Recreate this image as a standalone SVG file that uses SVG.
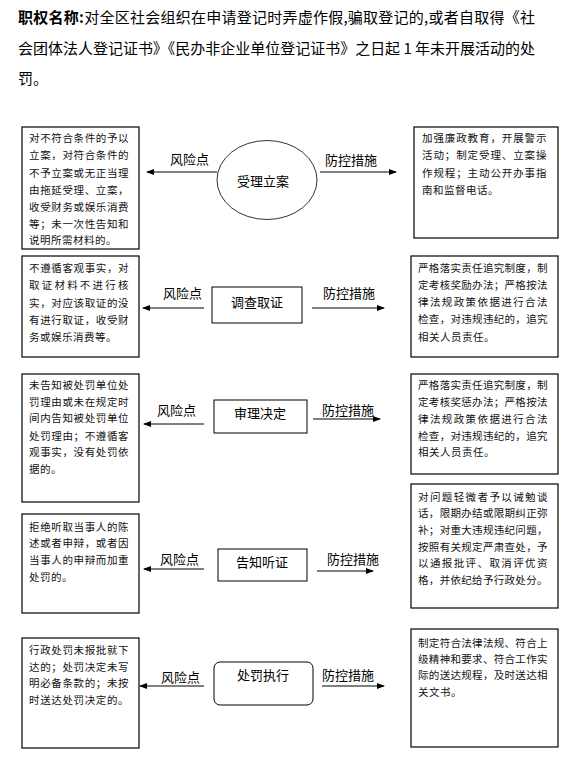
<svg xmlns="http://www.w3.org/2000/svg" width="588" height="764" viewBox="0 0 588 764">
<style>
.hd{font-family:"Noto Sans CJK SC","Liberation Sans",sans-serif;font-size:15px;fill:#000}
.b{font-weight:bold}
.box{fill:#fff;stroke:#000;stroke-width:1.2}
.nd{fill:#fff;stroke:#000;stroke-width:1}
.bt{font-family:"Noto Sans CJK SC",sans-serif;font-size:10.5px;fill:#111;letter-spacing:0.5px}
.nt{font-family:"Noto Sans CJK SC",sans-serif;font-size:13px;fill:#000;text-anchor:middle}
.lb{font-family:"Noto Sans CJK SC",sans-serif;font-size:13px;fill:#000}
.ln{stroke:#000;stroke-width:1;fill:none}
</style>
<defs>
<marker id="ah" markerWidth="8" markerHeight="6" refX="7" refY="3" orient="auto" markerUnits="userSpaceOnUse">
<path d="M0,0 L8,3 L0,6 z" fill="#000"/>
</marker>
</defs>
<rect width="588" height="764" fill="#fff"/>
<g id="header">
<text class="hd" x="18" y="23" textLength="517" lengthAdjust="spacing"><tspan class="b">职权名称:</tspan>对全区社会组织在申请登记时弄虚作假,骗取登记的,或者自取得《社</text>
<text class="hd" x="18" y="54" textLength="517" lengthAdjust="spacing">会团体法人登记证书》《民办非企业单位登记证书》之日起 1 年未开展活动的处</text>
<text class="hd" x="18" y="84">罚。</text>
</g>
<g id="connectors">
<line class="ln" x1="217" y1="172" x2="147" y2="172" marker-end="url(#ah)"/>
<line class="ln" x1="320" y1="172" x2="396" y2="172" marker-end="url(#ah)"/>
<line class="ln" x1="204" y1="308" x2="143" y2="308" marker-end="url(#ah)"/>
<line class="ln" x1="312" y1="308" x2="384" y2="308" marker-end="url(#ah)"/>
<line class="ln" x1="204" y1="424" x2="144" y2="424" marker-end="url(#ah)"/>
<line class="ln" x1="313" y1="419" x2="380" y2="419" marker-end="url(#ah)"/>
<line class="ln" x1="204" y1="569" x2="144" y2="569" marker-end="url(#ah)"/>
<line class="ln" x1="317" y1="571" x2="373" y2="571" marker-end="url(#ah)"/>
<line class="ln" x1="204" y1="686" x2="140" y2="686" marker-end="url(#ah)"/>
<line class="ln" x1="322" y1="686" x2="384" y2="686" marker-end="url(#ah)"/>
<text class="lb" x="170" y="164">风险点</text>
<text class="lb" x="325" y="165">防控措施</text>
<text class="lb" x="163" y="298">风险点</text>
<text class="lb" x="323" y="298">防控措施</text>
<text class="lb" x="157" y="415">风险点</text>
<text class="lb" x="322" y="415">防控措施</text>
<text class="lb" x="160" y="564">风险点</text>
<text class="lb" x="327" y="564">防控措施</text>
<text class="lb" x="161" y="682">风险点</text>
<text class="lb" x="322" y="680">防控措施</text>
</g>
<g id="n1">
<ellipse cx="267" cy="180" rx="50" ry="39.5" fill="#fff" stroke="#333" stroke-width="1"/>
<text class="nt" x="263" y="186">受理立案</text>
</g>
<g id="n2">
<rect class="nd" x="212" y="287" width="90" height="36"/>
<text class="nt" x="257" y="307">调查取证</text>
</g>
<g id="n3">
<rect class="nd" x="214" y="400" width="93" height="33"/>
<text class="nt" x="260" y="418">审理决定</text>
</g>
<g id="n4">
<rect class="nd" x="218" y="549" width="89" height="32"/>
<text class="nt" x="262" y="567">告知听证</text>
</g>
<g id="n5">
<rect class="nd" x="214" y="662" width="99" height="43" rx="6"/>
<text class="nt" x="263" y="680">处罚执行</text>
</g>
<g id="risk1">
<rect class="box" x="22" y="127" width="117" height="122"/>
<text class="bt" x="29" y="142" textLength="100" lengthAdjust="spacing">对不符合条件的予以</text>
<text class="bt" x="29" y="159" textLength="100" lengthAdjust="spacing">立案，对符合条件的</text>
<text class="bt" x="29" y="177" textLength="100" lengthAdjust="spacing">不予立案或无正当理</text>
<text class="bt" x="29" y="194" textLength="100" lengthAdjust="spacing">由拖延受理、立案，</text>
<text class="bt" x="29" y="211" textLength="100" lengthAdjust="spacing">收受财务或娱乐消费</text>
<text class="bt" x="29" y="228" textLength="100" lengthAdjust="spacing">等；未一次性告知和</text>
<text class="bt" x="29" y="244">说明所需材料的。</text>
</g>
<g id="ctrl1">
<rect class="box" x="414" y="127" width="144" height="111"/>
<text class="bt" x="422" y="142" textLength="125" lengthAdjust="spacing">加强廉政教育，开展警示</text>
<text class="bt" x="422" y="159" textLength="125" lengthAdjust="spacing">活动；制定受理、立案操</text>
<text class="bt" x="422" y="177" textLength="125" lengthAdjust="spacing">作规程；主动公开办事指</text>
<text class="bt" x="422" y="194">南和监督电话。</text>
</g>
<g id="risk2">
<rect class="box" x="22" y="256" width="117" height="101"/>
<text class="bt" x="29" y="272" textLength="100" lengthAdjust="spacing">不遵循客观事实，对</text>
<text class="bt" x="29" y="289" textLength="100" lengthAdjust="spacing">取证材料不进行核</text>
<text class="bt" x="29" y="307" textLength="100" lengthAdjust="spacing">实，对应该取证的没</text>
<text class="bt" x="29" y="324" textLength="100" lengthAdjust="spacing">有进行取证，收受财</text>
<text class="bt" x="29" y="341">务或娱乐消费等。</text>
</g>
<g id="ctrl2">
<rect class="box" x="411" y="256" width="147" height="101"/>
<text class="bt" x="418" y="272" textLength="130" lengthAdjust="spacing">严格落实责任追究制度，制</text>
<text class="bt" x="418" y="289" textLength="130" lengthAdjust="spacing">定考核奖励办法；严格按法</text>
<text class="bt" x="418" y="306" textLength="130" lengthAdjust="spacing">律法规政策依据进行合法</text>
<text class="bt" x="418" y="323" textLength="130" lengthAdjust="spacing">检查，对违规违纪的，追究</text>
<text class="bt" x="418" y="341">相关人员责任。</text>
</g>
<g id="risk3">
<rect class="box" x="22" y="374" width="117" height="128"/>
<text class="bt" x="29" y="389" textLength="100" lengthAdjust="spacing">未告知被处罚单位处</text>
<text class="bt" x="29" y="406" textLength="100" lengthAdjust="spacing">罚理由或未在规定时</text>
<text class="bt" x="29" y="422" textLength="100" lengthAdjust="spacing">间内告知被处罚单位</text>
<text class="bt" x="29" y="440" textLength="100" lengthAdjust="spacing">处罚理由；不遵循客</text>
<text class="bt" x="29" y="456" textLength="100" lengthAdjust="spacing">观事实，没有处罚依</text>
<text class="bt" x="29" y="473">据的。</text>
</g>
<g id="ctrl3">
<rect class="box" x="411" y="374" width="147" height="100"/>
<text class="bt" x="418" y="389" textLength="130" lengthAdjust="spacing">严格落实责任追究制度，制</text>
<text class="bt" x="418" y="406" textLength="130" lengthAdjust="spacing">定考核奖惩办法；严格按法</text>
<text class="bt" x="418" y="423" textLength="130" lengthAdjust="spacing">律法规政策依据进行合法</text>
<text class="bt" x="418" y="440" textLength="130" lengthAdjust="spacing">检查，对违规违纪的，追究</text>
<text class="bt" x="418" y="456">相关人员责任。</text>
</g>
<g id="risk4">
<rect class="box" x="22" y="514" width="117" height="99"/>
<text class="bt" x="29" y="531" textLength="100" lengthAdjust="spacing">拒绝听取当事人的陈</text>
<text class="bt" x="29" y="547" textLength="100" lengthAdjust="spacing">述或者申辩，或者因</text>
<text class="bt" x="29" y="564" textLength="100" lengthAdjust="spacing">当事人的申辩而加重</text>
<text class="bt" x="29" y="581">处罚的。</text>
</g>
<g id="ctrl4">
<rect class="box" x="411" y="484" width="147" height="124"/>
<text class="bt" x="418" y="501" textLength="130" lengthAdjust="spacing">对问题轻微者予以诫勉谈</text>
<text class="bt" x="418" y="517" textLength="130" lengthAdjust="spacing">话，限期办结或限期纠正弥</text>
<text class="bt" x="418" y="534" textLength="130" lengthAdjust="spacing">补；对重大违规违纪问题，</text>
<text class="bt" x="418" y="551" textLength="130" lengthAdjust="spacing">按照有关规定严肃查处，予</text>
<text class="bt" x="418" y="567" textLength="130" lengthAdjust="spacing">以通报批评、取消评优资</text>
<text class="bt" x="418" y="584" textLength="130" lengthAdjust="spacing">格，并依纪给予行政处分。</text>
</g>
<g id="risk5">
<rect class="box" x="22" y="638" width="117" height="110"/>
<text class="bt" x="29" y="654" textLength="100" lengthAdjust="spacing">行政处罚未报批就下</text>
<text class="bt" x="29" y="671" textLength="100" lengthAdjust="spacing">达的；处罚决定未写</text>
<text class="bt" x="29" y="687" textLength="100" lengthAdjust="spacing">明必备条款的；未按</text>
<text class="bt" x="29" y="704" textLength="100" lengthAdjust="spacing">时送达处罚决定的。</text>
</g>
<g id="ctrl5">
<rect class="box" x="411" y="629" width="147" height="118"/>
<text class="bt" x="418" y="647" textLength="130" lengthAdjust="spacing">制定符合法律法规、符合上</text>
<text class="bt" x="418" y="663" textLength="130" lengthAdjust="spacing">级精神和要求、符合工作实</text>
<text class="bt" x="418" y="679" textLength="130" lengthAdjust="spacing">际的送达规程，及时送达相</text>
<text class="bt" x="418" y="696">关文书。</text>
</g>
</svg>
